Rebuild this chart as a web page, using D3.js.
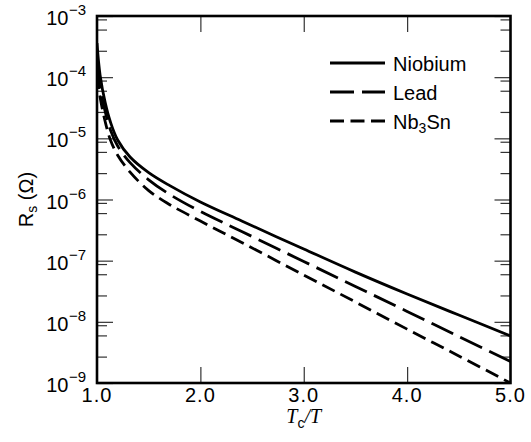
<!DOCTYPE html>
<html lang="en">
<head>
    <meta charset="UTF-8">
    <title>Surface resistance vs Tc/T</title>
    <script src="https://d3js.org/d3.v7.min.js"></script>
    <style>
        body { margin: 0; background: #fff; }
        svg { display: block; font-family: "Liberation Sans", Arial, sans-serif; }
        .tick-label { font-size: 20px; fill: #000; }
        .legend { font-size: 20px; fill: #000; }
    </style>
</head>
<body>
    <div id="chart"></div>

    <script>
        // data
        const tcRatio = [1.0, 1.03, 1.08, 1.13, 1.2, 1.32, 1.5, 1.7, 2.0, 2.4, 3.0, 3.5, 4.0, 4.5, 5.0];
        const niobium = [3.6e-4, 1.08e-4, 3.8e-5, 1.85e-5, 9.4e-6, 4.95e-6, 2.75e-6, 1.7e-6, 9.1e-7, 4.45e-7, 1.55e-7, 6.5e-8, 2.85e-8, 1.29e-8, 5.9e-9];
        const lead = [1.6e-4, 6.6e-5, 2.7e-5, 1.37e-5, 7.5e-6, 4.0e-6, 2.1e-6, 1.22e-6, 6.37e-7, 3.0e-7, 9.7e-8, 3.79e-8, 1.48e-8, 5.76e-9, 2.25e-9];
        const nb3sn = [1.08e-4, 4.7e-5, 1.85e-5, 9.4e-6, 5.3e-6, 2.8e-6, 1.4e-6, 8.3e-7, 4.45e-7, 1.98e-7, 5.83e-8, 2.11e-8, 7.6e-9, 2.77e-9, 1.0e-9];

        const xTicks = [2.0, 3.0, 4.0];
        const xLabels = [1.0, 2.0, 3.0, 4.0, 5.0];
        const yExponents = [-3, -4, -5, -6, -7, -8, -9];
        const minorFactors = [0.88, 0.6, 0.27];

        const width = 531;
        const height = 442;
        const marginTop = 16;
        const marginRight = 20.5;
        const marginBottom = 59;
        const marginLeft = 97;

        const svg = d3.select("#chart")
            .append("svg")
            .attr("width", width)
            .attr("height", height)
            .attr("viewBox", [0, 0, width, height]);

        const x = d3.scaleLinear().domain([1, 5]).range([marginLeft, width - marginRight]);
        const y = d3.scaleLog().domain([1e-9, 1e-3]).range([height - marginBottom, marginTop]);

        const majors = yExponents.map(e => Math.pow(10, e));
        const minors = [];
        majors.forEach(m => minorFactors.forEach(f => {
            if (m * f >= 1e-9) minors.push(m * f);
        }));

        const tickStyle = g => g
            .call(g => g.select(".domain").remove())
            .call(g => g.selectAll(".tick line").attr("stroke", "#333").attr("stroke-width", 1.2))
            .call(g => g.selectAll(".tick text").remove());

        // y ticks, both sides, pointing inward
        svg.append("g")
            .attr("transform", `translate(${marginLeft},0)`)
            .call(d3.axisLeft(y).tickValues(majors).tickSize(-16))
            .call(tickStyle);
        svg.append("g")
            .attr("transform", `translate(${marginLeft},0)`)
            .call(d3.axisLeft(y).tickValues(minors).tickSize(-10))
            .call(tickStyle);
        svg.append("g")
            .attr("transform", `translate(${width - marginRight},0)`)
            .call(d3.axisRight(y).tickValues(majors).tickSize(-16))
            .call(tickStyle);
        svg.append("g")
            .attr("transform", `translate(${width - marginRight},0)`)
            .call(d3.axisRight(y).tickValues(minors).tickSize(-10))
            .call(tickStyle);

        // x ticks top and bottom
        svg.append("g")
            .attr("transform", `translate(0,${height - marginBottom})`)
            .call(d3.axisBottom(x).tickValues(xTicks).tickSize(-16))
            .call(tickStyle);
        svg.append("g")
            .attr("transform", `translate(0,${marginTop})`)
            .call(d3.axisTop(x).tickValues(xTicks).tickSize(-16))
            .call(tickStyle);

        // y tick labels 10^n (base and exponent as separate texts)
        const yLab = svg.append("g");
        yLab.selectAll("text.base")
            .data(yExponents)
            .join("text")
            .attr("class", "tick-label base")
            .attr("text-anchor", "end")
            .attr("x", 68.5)
            .attr("y", d => y(Math.pow(10, d)) + 9)
            .text("10");
        yLab.selectAll("text.exp")
            .data(yExponents)
            .join("text")
            .attr("class", "exp")
            .attr("font-size", 15)
            .attr("x", 69)
            .attr("y", d => y(Math.pow(10, d)) - 1)
            .text(d => "\u2212" + Math.abs(d));

        // x tick labels
        svg.append("g")
            .selectAll("text")
            .data(xLabels)
            .join("text")
            .attr("class", "tick-label")
            .attr("text-anchor", "middle")
            .attr("letter-spacing", 1)
            .attr("x", d => x(d))
            .attr("y", height - marginBottom + 19)
            .text(d => d.toFixed(1));

        // curves
        svg.append("clipPath")
            .attr("id", "plot-clip")
            .append("rect")
            .attr("x", marginLeft)
            .attr("y", marginTop)
            .attr("width", width - marginLeft - marginRight)
            .attr("height", height - marginTop - marginBottom);

        const series = [
            { name: "Niobium", values: niobium, dash: null },
            { name: "Lead", values: lead, dash: "24,8" },
            { name: "Nb3Sn", values: nb3sn, dash: "14,6.5" }
        ];

        const line = d3.line()
            .x((d, i) => x(tcRatio[i]))
            .y(d => y(d))
            .curve(d3.curveCatmullRom.alpha(0.5));

        svg.append("g")
            .attr("clip-path", "url(#plot-clip)")
            .selectAll("path")
            .data(series)
            .join("path")
            .attr("fill", "none")
            .attr("stroke", "#000")
            .attr("stroke-width", 2.8)
            .attr("stroke-dasharray", d => d.dash)
            .attr("d", d => line(d.values));

        // frame
        svg.append("rect")
            .attr("x", marginLeft)
            .attr("y", marginTop)
            .attr("width", width - marginLeft - marginRight)
            .attr("height", height - marginTop - marginBottom)
            .attr("fill", "none")
            .attr("stroke", "#000")
            .attr("stroke-width", 2.6);

        // legend
        const legend = svg.append("g").attr("transform", "translate(330,63)");
        series.forEach((s, i) => {
            legend.append("line")
                .attr("x1", 0)
                .attr("x2", 55)
                .attr("y1", i * 29)
                .attr("y2", i * 29)
                .attr("stroke", "#000")
                .attr("stroke-width", 3)
                .attr("stroke-dasharray", s.dash);
            const t = legend.append("text")
                .attr("class", "legend")
                .attr("x", 63)
                .attr("y", i * 29 + 8);
            if (s.name === "Nb3Sn") {
                t.append("tspan").text("Nb");
                t.append("tspan").attr("font-size", 14).attr("dy", 4).text("3");
                t.append("tspan").attr("dy", -4).text("Sn");
            } else {
                t.text(s.name);
            }
        });

        // axis titles
        const xt = svg.append("text")
            .attr("x", x(3))
            .attr("y", 423)
            .attr("text-anchor", "middle")
            .attr("font-size", 20);
        xt.append("tspan").attr("font-family", "Liberation Serif, serif").attr("font-style", "italic").text("T");
        xt.append("tspan").attr("font-size", 14).attr("dy", 5).text("c");
        xt.append("tspan").attr("dy", -5).attr("font-family", "Liberation Serif, serif").attr("font-style", "italic").text("/T");

        const yt = svg.append("text")
            .attr("transform", `translate(33,${(marginTop + height - marginBottom) / 2}) rotate(-90)`)
            .attr("text-anchor", "middle")
            .attr("font-size", 20);
        yt.append("tspan").text("R");
        yt.append("tspan").attr("font-size", 14).attr("dy", 4).text("s");
        yt.append("tspan").attr("dy", -4).text(" (\u03A9)");
    </script>
</body>
</html>
